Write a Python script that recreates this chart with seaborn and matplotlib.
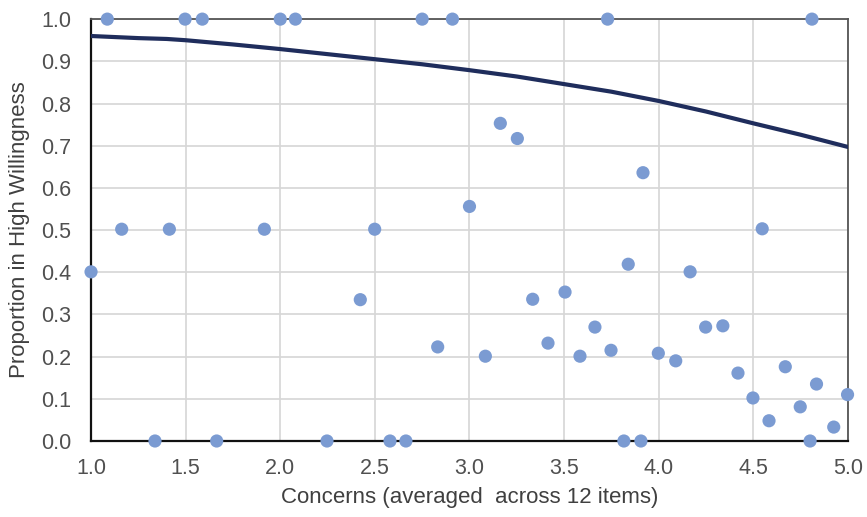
import numpy as np
import pandas as pd
import matplotlib
matplotlib.use("Agg")
import matplotlib.pyplot as plt
import seaborn as sns

# Observed points: concerns (x) and proportion high willingness (y)
concerns = [1.00, 1.086, 1.162, 1.338, 1.414, 1.497, 1.588, 1.664, 1.916, 2.00,
            2.08, 2.247, 2.423, 2.499, 2.58, 2.664, 2.75, 2.832, 2.91, 3.00,
            3.084, 3.163, 3.253, 3.334, 3.415, 3.505, 3.584, 3.663, 3.73, 3.748,
            3.816, 3.839, 3.906, 3.917, 3.998, 4.09, 4.166, 4.248, 4.339, 4.419,
            4.498, 4.547, 4.583, 4.669, 4.748, 4.80, 4.81, 4.834, 4.925, 4.998]
proportion = [0.401, 1.0, 0.502, 0.0, 0.502, 1.0, 1.0, 0.0, 0.502, 1.0,
              1.0, 0.0, 0.335, 0.502, 0.0, 0.0, 1.0, 0.223, 1.0, 0.556,
              0.201, 0.753, 0.717, 0.336, 0.232, 0.353, 0.201, 0.270, 1.0, 0.215,
              0.0, 0.419, 0.0, 0.636, 0.208, 0.190, 0.401, 0.270, 0.273, 0.161,
              0.102, 0.503, 0.048, 0.176, 0.081, 0.0, 1.0, 0.135, 0.033, 0.110]

# Fitted curve
fit_x = [1.0, 1.25, 1.4, 1.5, 1.75, 2.0, 2.25, 2.5, 2.75, 3.0, 3.25, 3.5, 3.75, 4.0, 4.25, 4.5, 4.75, 5.0]
fit_y = [0.960, 0.955, 0.953, 0.950, 0.940, 0.929, 0.917, 0.905, 0.893, 0.879, 0.864, 0.846, 0.828, 0.806, 0.781, 0.753, 0.726, 0.697]

x_ticks = [1.0, 1.5, 2.0, 2.5, 3.0, 3.5, 4.0, 4.5, 5.0]
y_ticks = [round(0.1 * i, 1) for i in range(11)]

sns.set_theme(style="white")
plt.rcParams['font.family'] = ['Liberation Sans', 'DejaVu Sans']

fig = plt.figure(figsize=(8.67, 5.17), dpi=100)
ax = fig.add_axes([0.105, 0.147, 0.873, 0.816])

pts = pd.DataFrame({"x": concerns, "y": proportion})
fit = pd.DataFrame({"x": fit_x, "y": fit_y})

sns.lineplot(data=fit, x="x", y="y", ax=ax, color="#1F2D5C", linewidth=3, zorder=3)
sns.scatterplot(data=pts, x="x", y="y", ax=ax, color="#7B9BD2", s=90,
                edgecolor="none", zorder=4, clip_on=False)

ax.set_xlim(1.0, 5.0)
ax.set_ylim(0.0, 1.0)
ax.set_xticks(x_ticks)
ax.set_yticks(y_ticks)
ax.set_xticklabels([f"{v:.1f}" for v in x_ticks])
ax.set_yticklabels([f"{v:.1f}" for v in y_ticks])
ax.grid(True, color="#D6D6D6", linewidth=1.2)
ax.set_axisbelow(True)
ax.tick_params(axis="both", labelsize=15.5, labelcolor="#505050", length=0)
ax.tick_params(axis="x", pad=12)
ax.tick_params(axis="y", pad=14)

for side in ["top", "right"]:
    ax.spines[side].set_color("#555555")
    ax.spines[side].set_linewidth(1.3)
for side in ["left", "bottom"]:
    ax.spines[side].set_color("#111111")
    ax.spines[side].set_linewidth(1.6)

ax.set_xlabel("Concerns (averaged  across 12 items)", fontsize=16, color="#404040", labelpad=6)
ax.set_ylabel("Proportion in High Willingness", fontsize=16, color="#404040", labelpad=8)

fig.savefig("out.png", dpi=100, facecolor="white")
